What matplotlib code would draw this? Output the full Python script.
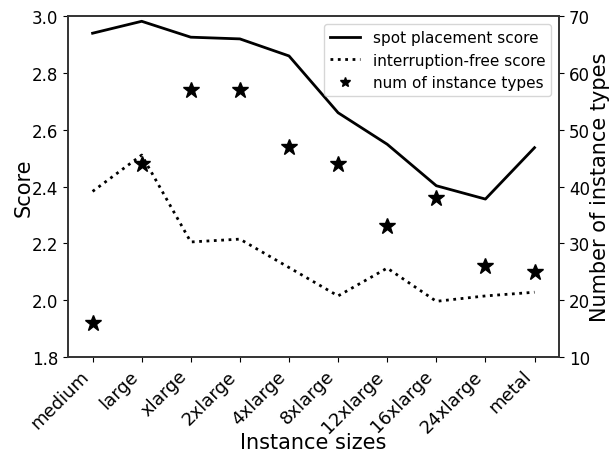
import matplotlib
matplotlib.use("Agg")
import matplotlib.pyplot as plt

sizes = ["medium", "large", "xlarge", "2xlarge", "4xlarge", "8xlarge",
         "12xlarge", "16xlarge", "24xlarge", "metal"]
placement_score = [2.94, 2.982, 2.926, 2.92, 2.86, 2.66, 2.549, 2.403, 2.356, 2.537]
interruption_free = [2.383, 2.511, 2.205, 2.215, 2.115, 2.015, 2.113, 1.996, 2.015, 2.028]
num_types = [16, 44, 57, 57, 47, 44, 33, 38, 26, 25]

fig = plt.figure(figsize=(6.13, 4.52), dpi=100)
ax = fig.add_axes([0.111, 0.208, 0.801, 0.754])
ax2 = ax.twinx()

x = list(range(len(sizes)))
l1, = ax.plot(x, placement_score, color="black", linestyle="-", linewidth=2,
              label="spot placement score")
l2, = ax.plot(x, interruption_free, color="black", linestyle=":", linewidth=2,
              label="interruption-free score")
s1, = ax2.plot(x, num_types, color="black", linestyle="none", marker="*",
               markersize=12, label="num of instance types")

ax.set_xlim(-0.5, 9.5)
ax.set_ylim(1.8, 3.0)
ax2.set_ylim(10, 70)
ax.set_xticks(x)
ax.set_xticklabels(sizes, rotation=45, ha="right")
ax.tick_params(axis="x", labelsize=13)
ax.tick_params(axis="y", labelsize=12)
ax2.tick_params(labelsize=12)
for a in (ax, ax2):
    for sp in a.spines.values():
        sp.set_linewidth(1.2)
        sp.set_color("#333333")

ax.set_xlabel("Instance sizes", fontsize=15, va="baseline")
ax.xaxis.set_label_coords(0.5, -0.268)
ax.set_ylabel("Score", fontsize=15)
ax.yaxis.set_label_coords(-0.071, 0.5)
ax2.set_ylabel("Number of instance types", fontsize=15)
ax2.yaxis.set_label_coords(1.063, 0.5)

ax.legend(handles=[l1, l2, s1], loc="upper right", fontsize=11, markerscale=0.65)

fig.savefig("out.png", dpi=100)
